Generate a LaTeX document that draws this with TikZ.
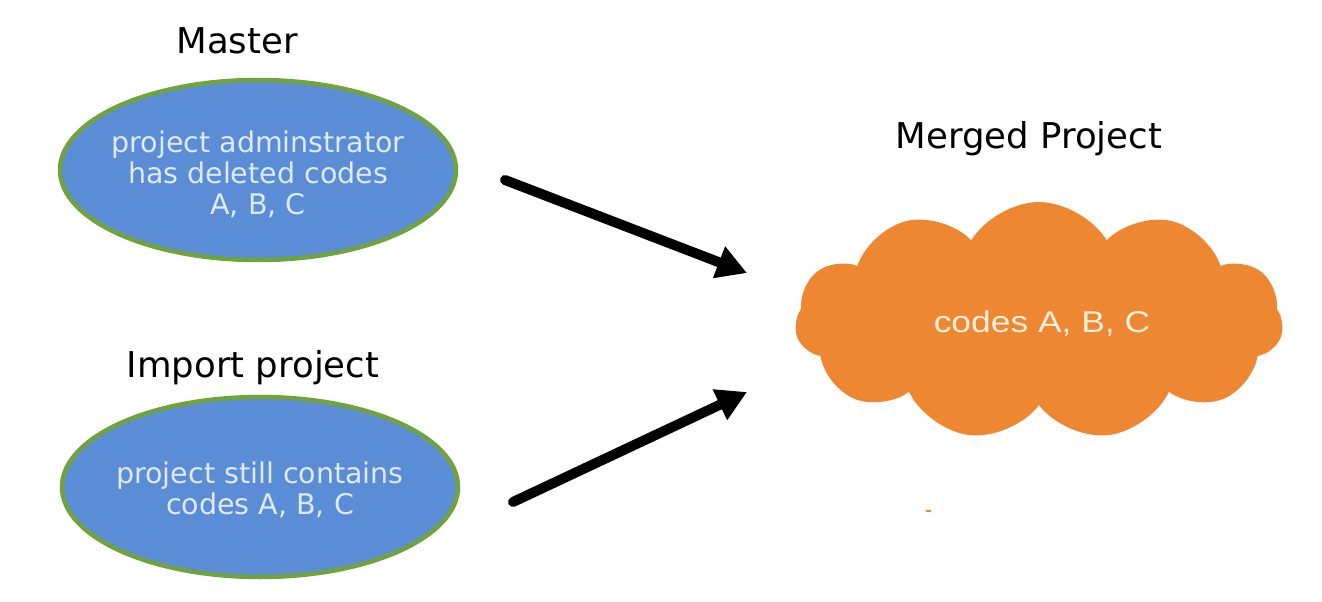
\documentclass[tikz,border=0pt]{standalone}
\usepackage{fontspec}
\setmainfont{DejaVu Sans}
\newfontfamily\arialfont{Liberation Sans}
\usetikzlibrary{shapes.geometric,shapes.symbols,arrows.meta}
\definecolor{ellblue}{RGB}{91,141,214}
\definecolor{ellgreen}{RGB}{112,163,62}
\definecolor{ellText}{RGB}{222,234,248}
\definecolor{cloudorange}{RGB}{237,135,50}
\definecolor{cloudText}{RGB}{250,238,220}
\tikzset{
  ovalbox/.style={ellipse, draw=ellgreen, fill=ellblue, line width=4.5pt,
    minimum width=396pt, minimum height=180pt, inner sep=0pt},
  ovaltext/.style={text=ellText, align=center, inner sep=0pt,
    font=\fontsize{28.5pt}{31pt}\selectfont},
  headlabel/.style={anchor=base, font=\fontsize{35.5pt}{40pt}\selectfont, text=black},
  bigarrow/.style={line width=10pt, line cap=round,
    -{Triangle[length=30pt,width=32pt]}},
}
\begin{document}
\begin{tikzpicture}[x=1pt,y=-1pt]
\useasboundingbox (0,0) rectangle (1322,602);
% ellipses
\node[ovalbox] (master) at (258,170) {};
\node[ovaltext] (mastertext) at (258,174) {project adminstrator\\has deleted codes\\A, B, C};
\node[ovalbox] (import) at (260,487) {};
\node[ovaltext] (importtext) at (260,490) {project still contains\\codes A, B, C};
% headings
\node[headlabel] (masterlbl) at (237,53) {Master};
\node[headlabel] (importlbl) at (253,377) {Import project};
\node[headlabel] (mergedlbl) at (1029,148) {Merged Project};
% cloud
\node[cloud, cloud puffs=11, cloud puff arc=118, aspect=2.05, fill=cloudorange,
  draw=none, minimum width=488pt, minimum height=238pt, inner sep=0pt]
  (merged) at (1039,321) {};
\node[anchor=base, text=cloudText, xscale=1.18, font=\arialfont\fontsize{30pt}{33pt}\selectfont]
  (mergedtext) at (1042,332) {codes A, B, C};
% small orange mark
\node[fill=cloudorange, minimum width=5pt, minimum height=2pt, inner sep=0pt] (mark) at (928,511) {};
% arrows
\coordinate (a1s) at (505,180);
\coordinate (a1e) at (747,273);
\coordinate (a2s) at (513,502);
\coordinate (a2e) at (747,392);
\draw[bigarrow] (a1s) -- (a1e);
\draw[bigarrow] (a2s) -- (a2e);
\end{tikzpicture}
\end{document}
